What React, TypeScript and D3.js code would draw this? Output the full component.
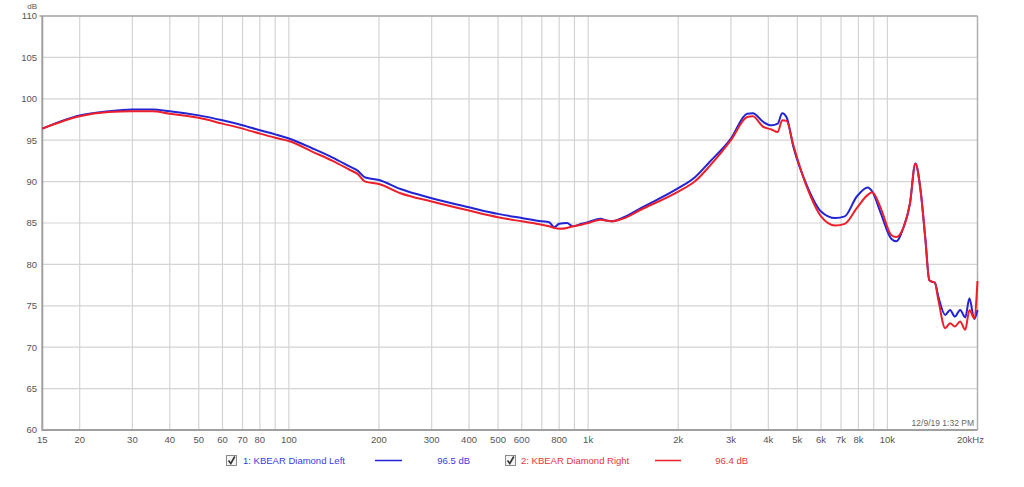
import React from "react";
import * as d3 from "d3";

const freqs = [15, 20, 25, 30, 35, 40, 50, 60, 70, 80, 90, 100, 120, 140, 160, 170, 180, 200, 236, 300, 400, 500, 600, 700, 740, 770, 800, 850, 890, 950, 1000, 1100, 1150, 1200, 1300, 1500, 2000, 2270, 2550, 3000, 3400, 3550, 3850, 4100, 4300, 4450, 4600, 4850, 5400, 6000, 6700, 7200, 7900, 8600, 8900, 9500, 10300, 10700, 11300, 11900, 12400, 12900, 13400, 13800, 14100, 14400, 14800, 15600, 16200, 16800, 17500, 18200, 18800, 19500, 20000];

const leftDb = [96.4, 98.0, 98.5, 98.7, 98.7, 98.5, 98.0, 97.4, 96.8, 96.2, 95.7, 95.2, 94.0, 92.9, 91.8, 91.3, 90.5, 90.2, 89.1, 88.0, 86.9, 86.1, 85.6, 85.2, 85.1, 84.5, 84.9, 85.0, 84.6, 84.9, 85.1, 85.5, 85.3, 85.2, 85.6, 86.8, 89.2, 90.5, 92.4, 95.2, 98.2, 98.25, 97.2, 96.8, 97.0, 98.25, 97.8, 94.2, 89.4, 86.4, 85.6, 85.8, 88.2, 89.3, 88.8, 86.2, 83.1, 82.8, 84.4, 87.4, 92.2, 89.0, 82.95, 78.1, 77.9, 77.8, 76.1, 73.9, 74.5, 73.7, 74.5, 73.6, 75.9, 73.4, 74.5];

const rightDb = [96.4, 97.9, 98.4, 98.5, 98.5, 98.2, 97.7, 97.0, 96.4, 95.8, 95.3, 94.9, 93.6, 92.5, 91.4, 90.9, 90.0, 89.7, 88.6, 87.6, 86.5, 85.7, 85.2, 84.8, 84.6, 84.4, 84.3, 84.4, 84.6, 84.8, 85.0, 85.4, 85.3, 85.2, 85.5, 86.6, 88.8, 90.0, 91.9, 95.0, 97.8, 97.9, 96.6, 96.3, 96.0, 97.4, 97.35, 94.4, 89.2, 85.8, 84.7, 84.9, 86.8, 88.4, 88.7, 86.8, 83.55, 83.3, 84.4, 87.4, 92.2, 89.0, 82.95, 78.1, 77.9, 77.8, 75.7, 72.3, 72.9, 72.5, 73.1, 72.1, 74.5, 73.5, 78.0];

const xTickValues = [15, 20, 30, 40, 50, 60, 70, 80, 100, 200, 300, 400, 500, 600, 800, 1000, 2000, 3000, 4000, 5000, 6000, 7000, 8000, 10000, 20000];
const xTickLabels = ["15", "20", "30", "40", "50", "60", "70", "80", "100", "200", "300", "400", "500", "600", "800", "1k", "2k", "3k", "4k", "5k", "6k", "7k", "8k", "10k", "20kHz"];
const yTicks = [60, 65, 70, 75, 80, 85, 90, 95, 100, 105, 110];

const seriesNames = ["1: KBEAR Diamond Left", "2: KBEAR Diamond Right"];
const seriesAvg = ["96.5 dB", "96.4 dB"];
const timestamp = "12/9/19 1:32 PM";

const W = 1024, H = 487;
const X0 = 42.3, X1 = 977.5, Y0 = 16, Y1 = 430;
const FONT = "'Liberation Sans', Arial, sans-serif";
const BLUE = "#2323d6";
const RED = "#ec1f2a";

export default function App() {
  const x = d3.scaleLog().domain([15, 20000]).range([X0, X1]);
  const y = d3.scaleLinear().domain([60, 110]).range([Y1, Y0]);

  const gridX: number[] = [];
  for (const dec of [10, 100, 1000, 10000]) {
    for (let m = 1; m <= 9; m++) {
      const f = dec * m;
      if (f > 15 && f < 20000) gridX.push(f);
    }
  }

  const line = d3.line<number>()
    .x((_, i) => x(freqs[i]))
    .y((d) => y(d))
    .curve(d3.curveMonotoneX);

  return (
    <svg width={W} height={H} style={{ position: "absolute", left: 0, top: 0, background: "#fff" }} fontFamily={FONT}>
      <rect x={0} y={0} width={W} height={H} fill="#fff" />
      {gridX.map((f) => (
        <line key={"gx" + f} x1={x(f)} x2={x(f)} y1={Y0} y2={Y1} stroke="#d4d4d4" strokeWidth={1.2} />
      ))}
      {yTicks.map((t) => (
        <line key={"gy" + t} x1={X0} x2={X1} y1={y(t)} y2={y(t)} stroke="#d4d4d4" strokeWidth={1.2} />
      ))}
      {/* frame */}
      <line x1={X0 - 3} x2={X1} y1={Y0} y2={Y0} stroke="#a8a8a8" strokeWidth={1.5} />
      <line x1={X1} x2={X1} y1={Y0} y2={Y1} stroke="#b0b0b0" strokeWidth={1.5} />
      <line x1={X0} x2={X0} y1={Y0} y2={Y1 + 1} stroke="#a0a0a0" strokeWidth={2} />
      <line x1={X0} x2={X1} y1={Y1} y2={Y1} stroke="#a0a0a0" strokeWidth={2} />

      {/* timestamp */}
      <rect x={894} y={416} width={82} height={13} fill="#fff" />
      <text x={974} y={425.5} textAnchor="end" fontSize={8.5} fill="#666">{timestamp}</text>

      {/* curves */}
      <path d={line(leftDb) || ""} fill="none" stroke={BLUE} strokeWidth={2} strokeLinejoin="round" />
      <path d={line(rightDb) || ""} fill="none" stroke={RED} strokeWidth={2} strokeLinejoin="round" />

      {/* y labels */}
      {yTicks.map((t) => (
        <text key={"yl" + t} x={37} y={y(t) + 3.3} textAnchor="end" fontSize={9.5} fill="#555">{t}</text>
      ))}
      <text x={37} y={9} textAnchor="end" fontSize={8} fill="#555">dB</text>

      {/* x labels */}
      {xTickValues.map((f, i) => (
        <text key={"xl" + f} x={x(f) + (i === xTickValues.length - 1 ? -7 : 0)} y={443} textAnchor="middle" fontSize={9.5} fill="#555">{xTickLabels[i]}</text>
      ))}

      {/* legend */}
      {[0, 1].map((i) => {
        const bx = i === 0 ? 226 : 505;
        const tx = i === 0 ? 243 : 521;
        const lx = i === 0 ? [375, 402] : [655, 681];
        const vx = i === 0 ? 470 : 748;
        const col = i === 0 ? "#3b3be0" : "#e8323c";
        const lc = i === 0 ? BLUE : RED;
        return (
          <g key={"lg" + i}>
            <rect x={bx + 0.5} y={455.5} width={10} height={10} fill="#f4f4f4" stroke="#8a8a8a" strokeWidth={1} />
            <path d={`M${bx + 2.5},${460.5} L${bx + 4.8},${463.5} L${bx + 8.8},${456.5}`} fill="none" stroke="#333" strokeWidth={1.6} />
            <text x={tx} y={464} fontSize={9.5} fill={col}>{seriesNames[i]}</text>
            <line x1={lx[0]} x2={lx[1]} y1={460.5} y2={460.5} stroke={lc} strokeWidth={1.5} />
            <text x={vx} y={464} textAnchor="end" fontSize={9.5} fill={col}>{seriesAvg[i]}</text>
          </g>
        );
      })}
    </svg>
  );
}
